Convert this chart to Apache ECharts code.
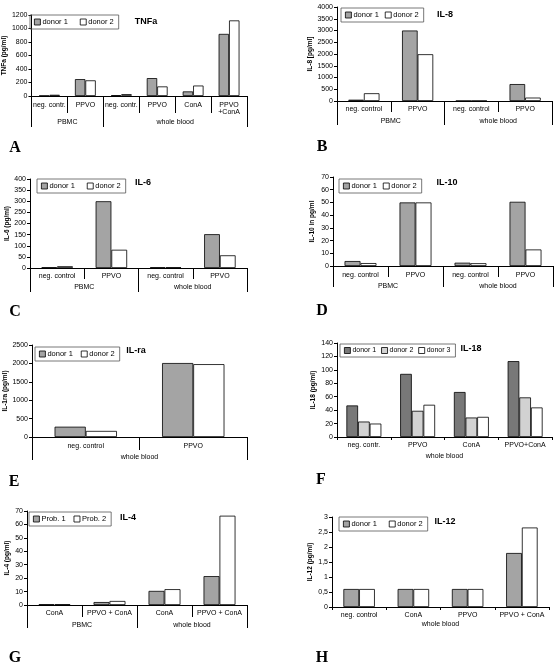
<!DOCTYPE html>
<html><head><meta charset="utf-8">
<script src="https://cdn.jsdelivr.net/npm/echarts@6/dist/echarts.min.js"></script>
<style>html,body{margin:0;padding:0;background:#fff}#c{width:556px;height:666px}</style>
</head><body><div id="c"></div>
<script>
// ---------- DATA ----------
// A: TNFa
const tnfCats = ['neg. contr.', 'PPVO', 'neg. contr.', 'PPVO', 'ConA', 'PPVO\n+ConA'];
const tnfGroups = ['PBMC', 'whole blood'];
const tnfGroupSizes = [2, 4];
const tnfDonor1 = [5, 250, 12, 265, 68, 920];
const tnfDonor2 = [18, 232, 28, 142, 155, 1120];
// B: IL-8
const il8Cats = ['neg. control', 'PPVO', 'neg. control', 'PPVO'];
const il8Groups = ['PBMC', 'whole blood'];
const il8GroupSizes = [2, 2];
const il8Donor1 = [55, 3000, 6, 720];
const il8Donor2 = [330, 1990, 6, 145];
// C: IL-6
const il6Cats = ['neg. control', 'PPVO', 'neg. control', 'PPVO'];
const il6Groups = ['PBMC', 'whole blood'];
const il6GroupSizes = [2, 2];
const il6Donor1 = [3, 300, 3, 152];
const il6Donor2 = [8, 82, 3, 57];
// D: IL-10
const il10Cats = ['neg. control', 'PPVO', 'neg. control', 'PPVO'];
const il10Groups = ['PBMC', 'whole blood'];
const il10GroupSizes = [2, 2];
const il10Donor1 = [3.9, 50, 2.6, 50.5];
const il10Donor2 = [2.3, 50, 2.2, 13];
// E: IL-ra
const ilraCats = ['neg. control', 'PPVO'];
const ilraGroups = ['whole blood'];
const ilraGroupSizes = [2];
const ilraDonor1 = [280, 2010];
const ilraDonor2 = [165, 1980];
// F: IL-18
const il18Cats = ['neg. contr.', 'PPVO', 'ConA', 'PPVO+ConA'];
const il18Groups = ['whole blood'];
const il18GroupSizes = [4];
const il18Donor1 = [47, 94, 67, 113];
const il18Donor2 = [23, 39, 29, 59];
const il18Donor3 = [20, 48, 30, 44];
// G: IL-4
const il4Cats = ['ConA', 'PPVO + ConA', 'ConA', 'PPVO + ConA'];
const il4Groups = ['PBMC', 'whole blood'];
const il4GroupSizes = [2, 2];
const il4Prob1 = [0.5, 2.2, 10.5, 21.5];
const il4Prob2 = [0.5, 3, 11.8, 66.5];
// H: IL-12
const il12Cats = ['neg. control', 'ConA', 'PPVO', 'PPVO + ConA'];
const il12Groups = ['whole blood'];
const il12GroupSizes = [4];
const il12Donor1 = [0.6, 0.6, 0.6, 1.8];
const il12Donor2 = [0.6, 0.6, 0.6, 2.65];

// ---------- STYLE ----------
const FONT = '"Liberation Sans", Arial, Helvetica, sans-serif';
const C1 = '#a4a4a4', C2 = '#ffffff';
const F1 = '#787878', F2 = '#d2d2d2', F3 = '#ffffff';

const option = { animation: false, backgroundColor: '#fff', grid: [], xAxis: [], yAxis: [], series: [], legend: [], graphic: [] };

function panel(p) {
  const gi = option.grid.length;
  option.grid.push({ left: p.box[0], top: p.box[1], width: p.box[2], height: p.box[3] });
  const xi = option.xAxis.length;
  option.xAxis.push({
    type: 'category', gridIndex: gi, data: p.cats, position: 'bottom',
    axisLine: { show: true, lineStyle: { color: '#000', width: 1 } },
    axisTick: { show: true, length: p.tickLen, lineStyle: { color: '#000', width: 1 } },
    axisLabel: { interval: 0, fontSize: 7, fontFamily: FONT, color: '#000', margin: p.labMargin, lineHeight: 7 },
    splitLine: { show: false }
  });
  // group level
  const n = p.cats.length;
  const gData = new Array(2 * n + 1).fill('');
  const seps = [0];
  let acc = 0;
  p.groupSizes.forEach((s, k) => { gData[acc * 2 + s] = p.groups[k]; acc += s; seps.push(acc * 2); });
  option.xAxis.push({
    type: 'category', gridIndex: gi, data: gData, boundaryGap: false, position: 'bottom', offset: 0,
    axisLine: { show: false },
    axisTick: { show: p.sepLen > 0, length: p.sepLen, interval: (idx) => seps.includes(idx), lineStyle: { color: '#000', width: 1 } },
    axisLabel: { interval: 0, fontSize: 7, fontFamily: FONT, color: '#000', margin: p.grpMargin },
    splitLine: { show: false }
  });
  option.yAxis.push({
    type: 'value', gridIndex: gi, min: 0, max: p.max, interval: p.interval,
    axisLine: { show: true, lineStyle: { color: '#000', width: 1 } },
    axisTick: { show: true, length: 3, lineStyle: { color: '#000' } },
    splitLine: { show: false },
    axisLabel: { fontSize: 7, fontFamily: FONT, color: '#000', margin: 4, formatter: p.fmt || (v => String(v)) },
    name: p.yName, nameLocation: 'middle', nameGap: p.nameGap, nameRotate: 90,
    nameTextStyle: { fontSize: 6.5, fontWeight: 'bold', fontFamily: FONT, color: '#000' }
  });
  p.series.forEach(s => {
    option.series.push({
      type: 'bar', name: s.name, xAxisIndex: xi, yAxisIndex: gi, data: s.data,
      barGap: '0%', barCategoryGap: p.gap || '42%', silent: true,
      itemStyle: { color: s.color, borderColor: '#000', borderWidth: 0.8 }
    });
  });
  option.legend.push({
    left: p.legend[0], top: p.legend[1], orient: 'horizontal', selectedMode: false,
    icon: 'rect', itemWidth: 6, itemHeight: 6, itemGap: p.legendGap || 9,
    borderColor: '#555', borderWidth: 0.8, padding: [3, 5, 3, 4],
    textStyle: { fontSize: p.legendFont || 7.5, fontFamily: FONT, color: '#000', padding: [0, 0, 0, -3] },
    data: p.series.map(s => ({ name: s.name, itemStyle: { color: s.color, borderColor: '#000', borderWidth: 0.8 } }))
  });
  option.graphic.push({ type: 'text', x: p.title[0], y: p.title[1], style: { text: p.titleText, fontSize: 9, fontWeight: 'bold', fontFamily: FONT, fill: '#000', align: 'center', verticalAlign: 'middle' } });
  option.graphic.push({ type: 'text', x: p.letter[0], y: p.letter[1], style: { text: p.letterText, fontSize: 16, fontWeight: 'bold', fontFamily: '"Liberation Serif", "Times New Roman", serif', fill: '#000', align: 'center', verticalAlign: 'middle' } });
}

panel({ box: [30, 15, 217, 81], cats: tnfCats, groups: tnfGroups, groupSizes: tnfGroupSizes, tickLen: 17, sepLen: 31, labMargin: 6, grpMargin: 23,
  max: 1200, interval: 200, yName: 'TNFa (pg/ml)', nameGap: 21,
  series: [{ name: 'donor 1', data: tnfDonor1, color: C1 }, { name: 'donor 2', data: tnfDonor2, color: C2 }],
  legend: [30, 15], legendGap: 12, title: [146, 22], titleText: 'TNFa', letter: [15, 148], letterText: 'A' });

panel({ box: [337, 7, 215, 94], cats: il8Cats, groups: il8Groups, groupSizes: il8GroupSizes, tickLen: 11, sepLen: 24, labMargin: 5, grpMargin: 17,
  max: 4000, interval: 500, yName: 'IL-8 [pg/ml]', nameGap: 22,
  series: [{ name: 'donor 1', data: il8Donor1, color: C1 }, { name: 'donor 2', data: il8Donor2, color: C2 }],
  legend: [341, 8], legendGap: 6, title: [445, 15], titleText: 'IL-8', letter: [322, 147], letterText: 'B' });

panel({ box: [30, 179, 217, 89], cats: il6Cats, groups: il6Groups, groupSizes: il6GroupSizes, tickLen: 11, sepLen: 24, labMargin: 4.5, grpMargin: 15.5,
  max: 400, interval: 50, yName: 'IL-6 (pg/ml)', nameGap: 19,
  series: [{ name: 'donor 1', data: il6Donor1, color: C1 }, { name: 'donor 2', data: il6Donor2, color: C2 }],
  legend: [37, 179], legendGap: 12, title: [143, 183], titleText: 'IL-6', letter: [15, 312], letterText: 'C' });

panel({ box: [333, 177, 220, 89], cats: il10Cats, groups: il10Groups, groupSizes: il10GroupSizes, tickLen: 11, sepLen: 21, labMargin: 5.5, grpMargin: 16.5,
  max: 70, interval: 10, yName: 'IL-10 in pg/ml', nameGap: 17,
  series: [{ name: 'donor 1', data: il10Donor1, color: C1 }, { name: 'donor 2', data: il10Donor2, color: C2 }],
  legend: [339, 179], legendGap: 6, title: [447, 183], titleText: 'IL-10', letter: [322, 311], letterText: 'D' });

panel({ box: [32, 345, 215, 92], cats: ilraCats, groups: ilraGroups, groupSizes: ilraGroupSizes, tickLen: 13, sepLen: 23, labMargin: 5.5, grpMargin: 16.5,
  max: 2500, interval: 500, yName: 'IL-1ra (pg/ml)', nameGap: 21,
  series: [{ name: 'donor 1', data: ilraDonor1, color: C1 }, { name: 'donor 2', data: ilraDonor2, color: C2 }],
  legend: [35, 347], legendGap: 8, title: [136, 351], titleText: 'IL-ra', letter: [14, 482], letterText: 'E' });

panel({ box: [337, 343, 215, 94], cats: il18Cats, groups: il18Groups, groupSizes: il18GroupSizes, tickLen: 3, sepLen: 0, labMargin: 5, grpMargin: 15.5,
  max: 140, interval: 20, yName: 'IL-18 (pg/ml)', nameGap: 20, gap: '35%',
  series: [{ name: 'donor 1', data: il18Donor1, color: F1 }, { name: 'donor 2', data: il18Donor2, color: F2 }, { name: 'donor 3', data: il18Donor3, color: F3 }],
  legend: [340, 344], legendGap: 5, legendFont: 7, title: [471, 349], titleText: 'IL-18', letter: [321, 480], letterText: 'F' });

panel({ box: [27, 511, 220, 94], cats: il4Cats, groups: il4Groups, groupSizes: il4GroupSizes, tickLen: 12, sepLen: 23, labMargin: 4.5, grpMargin: 16.5,
  max: 70, interval: 10, yName: 'IL-4 (pg/ml)', nameGap: 16,
  series: [{ name: 'Prob. 1', data: il4Prob1, color: C1 }, { name: 'Prob. 2', data: il4Prob2, color: C2 }],
  legend: [29, 512], legendGap: 8, title: [128, 518], titleText: 'IL-4', letter: [15, 658], letterText: 'G' });

panel({ box: [332, 517, 217, 90], cats: il12Cats, groups: il12Groups, groupSizes: il12GroupSizes, tickLen: 3, sepLen: 0, labMargin: 4.5, grpMargin: 13.5,
  max: 3, interval: 0.5, yName: 'IL-12 (pg/ml)', nameGap: 18, fmt: v => String(v).replace('.', ','),
  series: [{ name: 'donor 1', data: il12Donor1, color: C1 }, { name: 'donor 2', data: il12Donor2, color: C2 }],
  legend: [339, 517], legendGap: 12, title: [445, 522], titleText: 'IL-12', letter: [322, 658], letterText: 'H' });

const chart = echarts.init(document.getElementById('c'), null, { renderer: 'canvas' });
chart.setOption(option);
</script>
</body></html>
